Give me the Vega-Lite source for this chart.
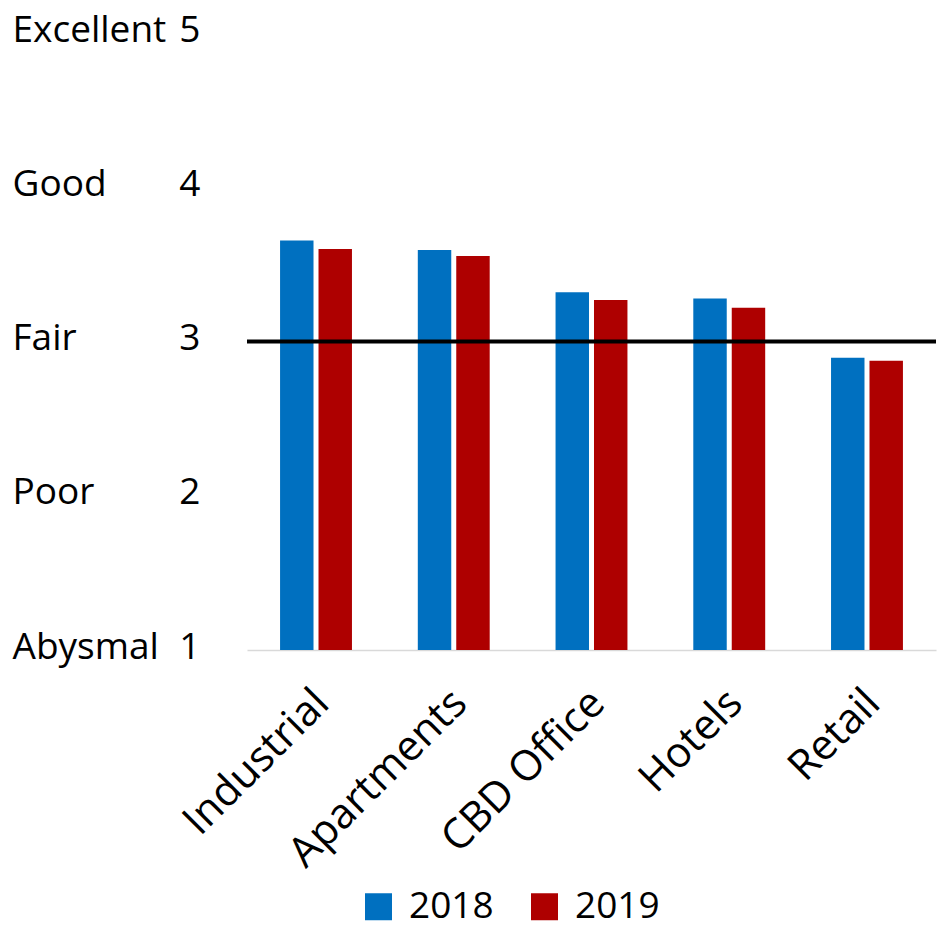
{
  "$schema": "https://vega.github.io/schema/vega-lite/v6.json",
  "width": 689,
  "height": 617,
  "autosize": {"type": "none"},
  "padding": {"left": 247, "top": 33, "right": 4, "bottom": 280},
  "config": {"view": {"stroke": null}, "font": "Open Sans"},
  "layer": [
    {
      "data": {
        "values": [
          {"sector": "Industrial", "year": "2018", "value": 3.655},
          {"sector": "Industrial", "year": "2019", "value": 3.60},
          {"sector": "Apartments", "year": "2018", "value": 3.593},
          {"sector": "Apartments", "year": "2019", "value": 3.554},
          {"sector": "CBD Office", "year": "2018", "value": 3.32},
          {"sector": "CBD Office", "year": "2019", "value": 3.269},
          {"sector": "Hotels", "year": "2018", "value": 3.279},
          {"sector": "Hotels", "year": "2019", "value": 3.219},
          {"sector": "Retail", "year": "2018", "value": 2.894},
          {"sector": "Retail", "year": "2019", "value": 2.875}
        ]
      },
      "mark": {"type": "bar"},
      "encoding": {
        "x": {
          "field": "sector",
          "type": "nominal",
          "sort": ["Industrial", "Apartments", "CBD Office", "Hotels", "Retail"],
          "scale": {"paddingInner": 0.478, "paddingOuter": 0.24},
          "axis": {
            "title": null,
            "labelAngle": -45,
            "labelFontSize": 42,
            "labelColor": "black",
            "labelLimit": 0,
            "ticks": false,
            "domainColor": "#d9d9d9",
            "domainWidth": 1.5,
            "labelPadding": 32,
            "labelOffset": -8
          }
        },
        "xOffset": {
          "field": "year",
          "type": "nominal",
          "scale": {"paddingInner": 0.13, "paddingOuter": 0}
        },
        "y": {
          "field": "value",
          "type": "quantitative",
          "scale": {"domain": [1, 5], "nice": false, "zero": false},
          "axis": {
            "title": null,
            "values": [1, 2, 3, 4, 5],
            "grid": false,
            "domain": false,
            "ticks": false,
            "labelFontSize": 37,
            "labelPadding": 47,
            "labelColor": "black",
            "labelOffset": -3
          }
        },
        "y2": {"datum": 1},
        "color": {
          "field": "year",
          "type": "nominal",
          "scale": {"domain": ["2018", "2019"], "range": ["#0070C0", "#AE0000"]},
          "legend": {
            "title": null,
            "orient": "none",
            "legendX": 113,
            "legendY": 855,
            "direction": "horizontal",
            "symbolType": "square",
            "symbolSize": 729,
            "symbolStrokeWidth": 0,
            "symbolOpacity": 1,
            "labelFontSize": 37,
            "labelColor": "black",
            "labelOffset": 12,
            "columnPadding": 32
          }
        }
      }
    },
    {
      "data": {"values": [{"ref": 3}]},
      "mark": {"type": "rule", "color": "black", "strokeWidth": 4},
      "encoding": {
        "y": {
          "field": "ref",
          "type": "quantitative",
          "scale": {"domain": [1, 5], "nice": false, "zero": false},
          "axis": {
            "orient": "left",
            "title": null,
            "values": [1, 2, 3, 4, 5],
            "labelExpr": "['', 'Abysmal', 'Poor', 'Fair', 'Good', 'Excellent'][datum.value]",
            "grid": false,
            "domain": false,
            "ticks": false,
            "labelFontSize": 37,
            "labelAlign": "left",
            "labelPadding": 235,
            "labelColor": "black",
            "labelOffset": -3
          }
        }
      }
    }
  ],
  "resolve": {"axis": {"y": "independent"}}
}
